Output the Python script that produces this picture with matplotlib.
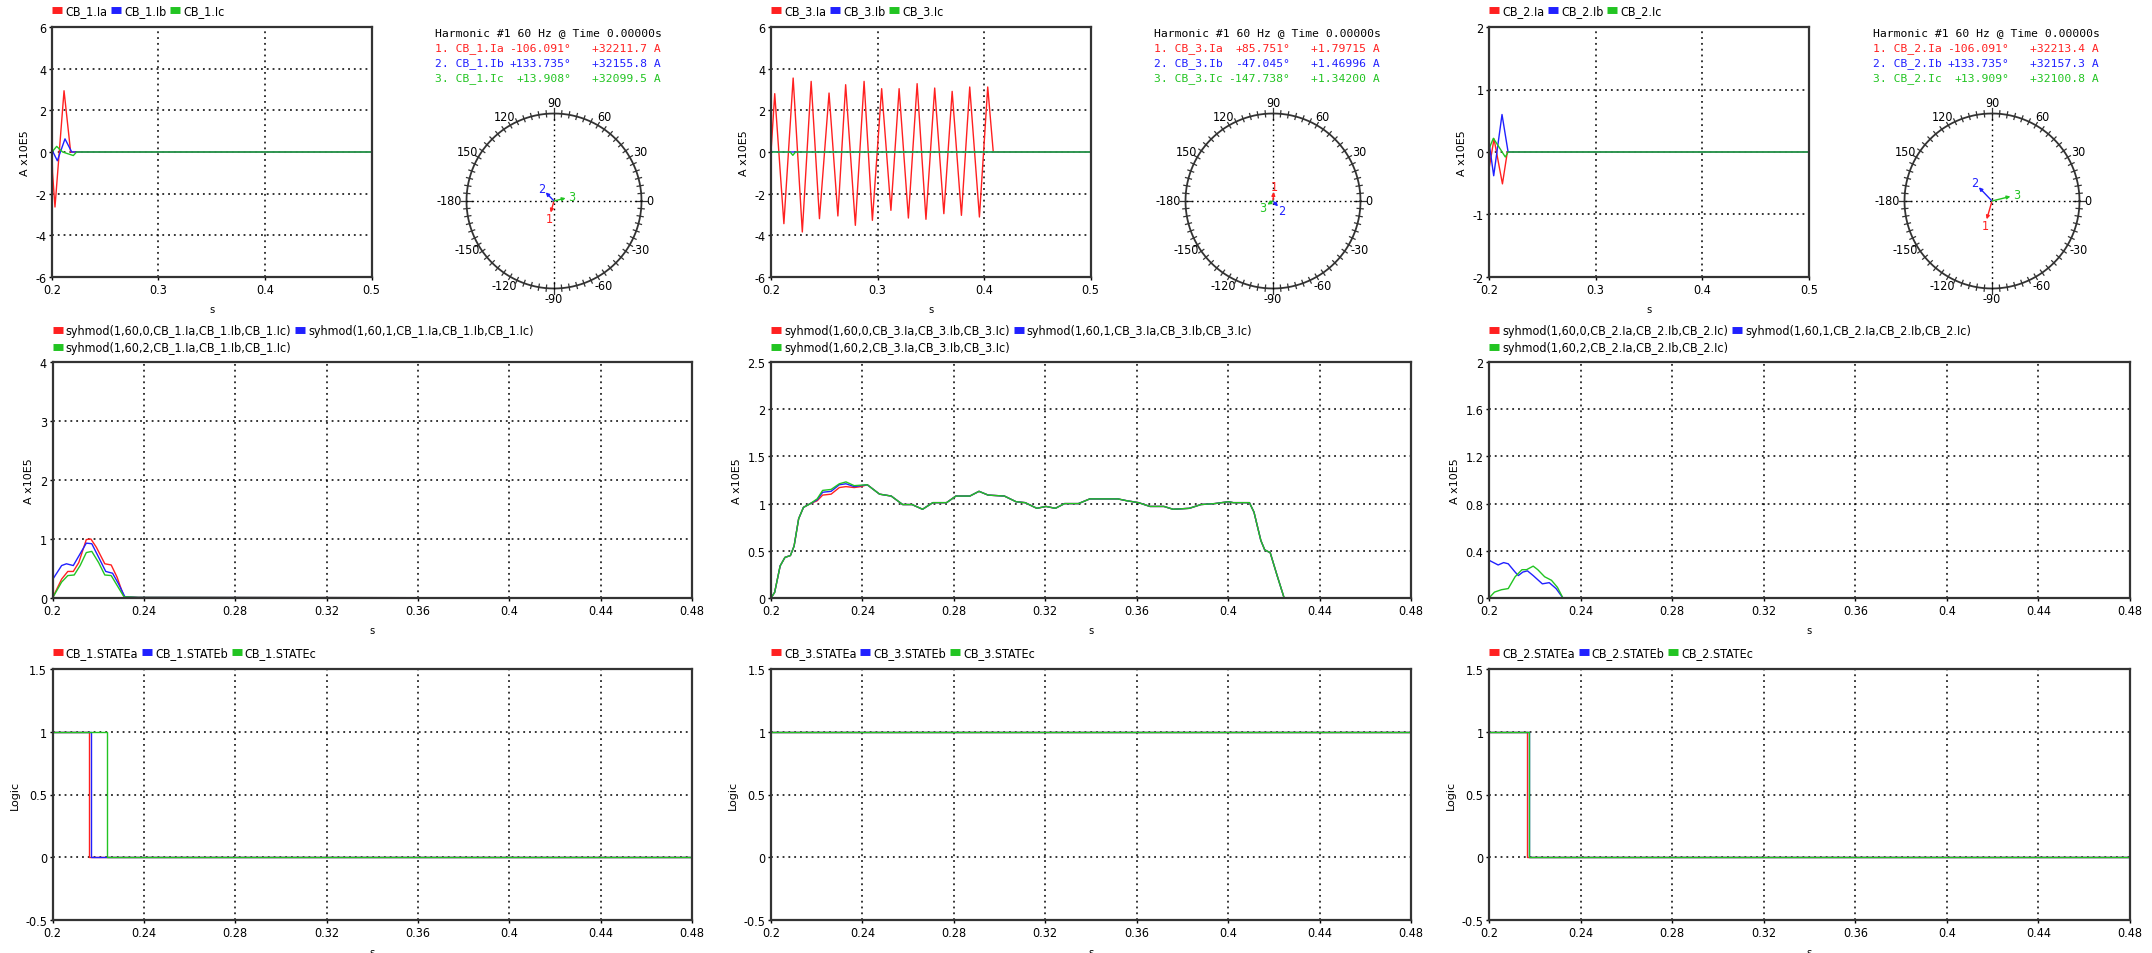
import numpy as np
import matplotlib
matplotlib.use('Agg')
import matplotlib.pyplot as plt
from matplotlib.lines import Line2D

plt.rcParams['font.family'] = ['Liberation Sans Narrow', 'DejaVu Sans']
plt.rcParams['font.stretch'] = 'condensed'

W, H = 2152, 954
RED, BLUE, GREEN = '#ff2020', '#2020ff', '#22c422'
COLORS = [RED, BLUE, GREEN]

# ---- instantaneous currents (A x10E5) ----
cb1_ia_t = [0.2, 0.2005, 0.2028, 0.2113, 0.2175, 0.5]
cb1_ia = [0.0, -1.0, -2.64, 2.94, 0.0, 0.0]
cb1_ib_t = [0.2, 0.205, 0.2122, 0.2185, 0.5]
cb1_ib = [0.1, -0.42, 0.63, 0.0, 0.0]
cb1_ic_t = [0.2, 0.2044, 0.21, 0.22, 0.2231, 0.5]
cb1_ic = [0.0, 0.27, 0.0, -0.17, 0.0, 0.0]

cb3_ia_t = [0.2, 0.2035, 0.2121, 0.2208, 0.2294, 0.2377, 0.2455, 0.2545, 0.2628,
            0.2701, 0.2792, 0.2874, 0.2952, 0.3039, 0.3126, 0.3203, 0.329, 0.3372,
            0.3455, 0.3537, 0.3623, 0.3701, 0.3788, 0.3866, 0.3957, 0.4035, 0.4087, 0.5]
cb3_ia = [0.0, 2.8, -3.44, 3.55, -3.84, 3.39, -3.2, 2.83, -3.07, 3.23, -3.52, 3.39,
          -3.28, 3.04, -2.8, 3.04, -3.17, 3.28, -3.23, 3.07, -2.96, 2.91, -3.04, 3.12,
          -3.12, 3.12, 0.0, 0.0]
cb3_ib_t = [0.2, 0.2075, 0.5]
cb3_ib = [0.02, 0.0, 0.0]
cb3_ic_t = [0.2, 0.218, 0.2205, 0.223, 0.5]
cb3_ic = [0.0, 0.0, -0.16, 0.0, 0.0]

cb2_ia_t = [0.2, 0.2047, 0.2126, 0.2172, 0.2203, 0.5]
cb2_ia = [-0.27, 0.21, -0.51, 0.0, 0.0, 0.0]
cb2_ib_t = [0.2, 0.2044, 0.2122, 0.2179, 0.5]
cb2_ib = [0.16, -0.38, 0.6, 0.0, 0.0]
cb2_ic_t = [0.2, 0.2041, 0.2153, 0.2179, 0.5]
cb2_ic = [0.05, 0.22, -0.08, 0.0, 0.0]

# ---- harmonic phasors ----
cb1_ang = [-106.091, 133.735, 13.908]
cb1_mag = [32211.7, 32155.8, 32099.5]
cb3_ang = [85.751, -47.045, -147.738]
cb3_mag = [1.79715, 1.46996, 1.34200]
cb2_ang = [-106.091, 133.735, 13.909]
cb2_mag = [32213.4, 32157.3, 32100.8]
phasor_full_scale = [2.35e5, 17.5, 1.48e5]

# ---- sequence magnitudes syhmod (A x10E5) ----
cb1_s0_t = [0.2, 0.204, 0.2067, 0.2091, 0.2115, 0.2148, 0.2168, 0.2192, 0.2229, 0.2257, 0.2283, 0.2313, 0.2374, 0.48]
cb1_s0 = [0.0, 0.32, 0.45, 0.45, 0.6, 0.99, 1.0, 0.86, 0.58, 0.56, 0.35, 0.02, 0.01, 0.0]
cb1_s1_t = [0.2, 0.204, 0.2061, 0.2091, 0.2121, 0.2148, 0.2172, 0.2202, 0.2233, 0.2263, 0.2289, 0.2317, 0.2374, 0.48]
cb1_s1 = [0.31, 0.55, 0.58, 0.55, 0.75, 0.93, 0.92, 0.69, 0.45, 0.42, 0.24, 0.02, 0.01, 0.0]
cb1_s2_t = [0.2, 0.204, 0.2067, 0.2095, 0.2121, 0.2148, 0.2172, 0.2202, 0.2229, 0.2257, 0.2285, 0.2313, 0.2374, 0.48]
cb1_s2 = [0.0, 0.27, 0.38, 0.39, 0.55, 0.77, 0.79, 0.6, 0.39, 0.38, 0.2, 0.02, 0.01, 0.0]

cb3_s2_t = [0.2, 0.2016, 0.204, 0.2061, 0.2085, 0.2101, 0.2121, 0.2142, 0.2172, 0.2202,
            0.2226, 0.2263, 0.2299, 0.2328, 0.2364, 0.2421, 0.2475, 0.2526, 0.2576, 0.2617,
            0.2663, 0.2708, 0.2768, 0.2809, 0.287, 0.291, 0.295, 0.3021, 0.3072, 0.3112,
            0.3163, 0.3203, 0.3244, 0.3284, 0.3345, 0.3395, 0.3517, 0.3557, 0.3608, 0.3658,
            0.3719, 0.3759, 0.383, 0.3881, 0.3941, 0.4002, 0.4022, 0.4093, 0.4113, 0.4143,
            0.416, 0.4184, 0.4214, 0.4245, 0.48]
cb3_s2 = [0.0, 0.06, 0.34, 0.43, 0.45, 0.55, 0.84, 0.96, 1.0, 1.05,
          1.14, 1.15, 1.21, 1.23, 1.19, 1.2, 1.1, 1.08, 0.99, 0.99,
          0.94, 1.01, 1.01, 1.08, 1.08, 1.13, 1.09, 1.08, 1.02, 1.01,
          0.95, 0.97, 0.95, 1.0, 1.0, 1.05, 1.05, 1.03, 1.01, 0.97,
          0.97, 0.94, 0.95, 0.99, 1.0, 1.02, 1.01, 1.01, 0.91, 0.61,
          0.51, 0.48, 0.24, 0.0, 0.0]
cb3_s0_head_t = [0.2, 0.2016, 0.204, 0.2061, 0.2085, 0.2101, 0.2121, 0.2142, 0.2172, 0.2202, 0.2226, 0.2263, 0.2299, 0.2328, 0.2364, 0.2393]
cb3_s0_head = [0.0, 0.06, 0.34, 0.43, 0.45, 0.55, 0.84, 0.96, 1.0, 1.03, 1.09, 1.1, 1.17, 1.18, 1.17, 1.18]
cb3_s1_head_t = [0.2, 0.2016, 0.204, 0.2061, 0.2085, 0.2101, 0.2121, 0.2142, 0.2172, 0.2202, 0.2226, 0.2263, 0.2299, 0.2328, 0.2364, 0.2393]
cb3_s1_head = [0.0, 0.06, 0.34, 0.43, 0.45, 0.55, 0.84, 0.96, 1.0, 1.04, 1.12, 1.13, 1.2, 1.21, 1.18, 1.19]

cb2_s0_t = [0.2, 0.2323, 0.48]
cb2_s0 = [0.0, 0.0, 0.0]
cb2_s1_t = [0.2, 0.202, 0.204, 0.2064, 0.2084, 0.2114, 0.2128, 0.2148, 0.2168, 0.2193, 0.2233, 0.2263, 0.2293, 0.2323, 0.48]
cb2_s1 = [0.32, 0.3, 0.28, 0.3, 0.29, 0.22, 0.19, 0.22, 0.23, 0.19, 0.12, 0.13, 0.08, 0.0, 0.0]
cb2_s2_t = [0.2, 0.2024, 0.2054, 0.2084, 0.2114, 0.2144, 0.2164, 0.2193, 0.2213, 0.2243, 0.2273, 0.2299, 0.2323, 0.48]
cb2_s2 = [0.0, 0.05, 0.07, 0.08, 0.18, 0.24, 0.24, 0.27, 0.24, 0.18, 0.15, 0.09, 0.0, 0.0]

# ---- breaker states (logic) ----
cb1_state_t = [[0.2, 0.2162, 0.48], [0.2, 0.2168, 0.48], [0.2, 0.2237, 0.48]]
cb1_state = [[1, 0, 0], [1, 0, 0], [1, 0, 0]]
cb3_state_t = [[0.2, 0.48], [0.2, 0.48], [0.2, 0.48]]
cb3_state = [[1, 1], [1, 1], [1, 1]]
cb2_state_t = [[0.2, 0.2164, 0.48], [0.2, 0.2176, 0.48], [0.2, 0.2176, 0.48]]
cb2_state = [[1, 0, 0], [1, 0, 0], [1, 0, 0]]

names = ['CB_1', 'CB_3', 'CB_2']
wave_ticks_y = [[-6, -4, -2, 0, 2, 4, 6], [-6, -4, -2, 0, 2, 4, 6], [-2, -1, 0, 1, 2]]
trend_ticks_y = [[0, 1, 2, 3, 4], [0, 0.5, 1, 1.5, 2, 2.5], [0, 0.4, 0.8, 1.2, 1.6, 2]]
state_ticks_y = [-0.5, 0, 0.5, 1, 1.5]
wave_ticks_x = [0.2, 0.3, 0.4, 0.5]
trend_ticks_x = [0.2, 0.24, 0.28, 0.32, 0.36, 0.4, 0.44, 0.48]

fig = plt.figure(figsize=(W / 100, H / 100), dpi=100)


def px_axes(x0, y0, x1, y1):
    return fig.add_axes([x0 / W, 1 - y1 / H, (x1 - x0) / W, (y1 - y0) / H])


def style_axes(ax, xticks, yticks, ylabel):
    ax.set_xlim(xticks[0], xticks[-1])
    ax.set_ylim(yticks[0], yticks[-1])
    ax.set_xticks(xticks)
    ax.set_xticklabels(['%g' % v for v in xticks])
    ax.set_yticks(yticks)
    ax.set_yticklabels(['%g' % v for v in yticks])
    ax.grid(True, color='black', linestyle=(0, (1.2, 2.6)), linewidth=1.1)
    for s in ax.spines.values():
        s.set_color('#333333')
        s.set_linewidth(1.6)
    ax.tick_params(direction='out', length=2, width=1, pad=2, labelsize=9)
    ax.set_xlabel('s', fontsize=8, labelpad=6)
    ax.set_ylabel(ylabel, fontsize=8, family='DejaVu Sans', stretch='normal', labelpad=4)


def add_legend(ax, labels, x_px, y_px, ncol, order=None):
    handles = [Line2D([0], [0], color=c, lw=5, solid_capstyle='butt') for c in COLORS]
    if order is not None:
        handles = [handles[i] for i in order]
        labels = [labels[i] for i in order]
    ax.legend(handles, labels, loc='center left', bbox_to_anchor=(x_px / W, 1 - y_px / H),
              bbox_transform=fig.transFigure, ncol=ncol, frameon=False, fontsize=9,
              handlelength=0.8, handletextpad=0.25, columnspacing=0.3, borderpad=0,
              borderaxespad=0, labelspacing=0.3)


def draw_phasor(cx, cy, angles, mags, full):
    R = 87.5
    half = R * 1.45
    ax = px_axes(cx - half, cy - half, cx + half, cy + half)
    ax.set_xlim(-1.45, 1.45)
    ax.set_ylim(-1.45, 1.45)
    ax.axis('off')
    th = np.radians(np.arange(0, 361, 1))
    ax.plot(np.cos(th), np.sin(th), color='#333333', lw=1.3)
    for a in range(0, 360, 5):
        r0, r1 = (0.93, 1.06) if a % 90 == 0 else (0.965, 1.035)
        c, s = np.cos(np.radians(a)), np.sin(np.radians(a))
        ax.plot([r0 * c, r1 * c], [r0 * s, r1 * s], color='#333333', lw=0.9)
    ax.plot([-1, 1], [0, 0], color='black', ls=(0, (1.2, 2.6)), lw=1)
    ax.plot([0, 0], [-1, 1], color='black', ls=(0, (1.2, 2.6)), lw=1)
    for lab in [0, 30, 60, 90, 120, 150, -180, -150, -120, -90, -60, -30]:
        c, s = np.cos(np.radians(lab)), np.sin(np.radians(lab))
        if lab == 0:
            ax.text(1.05, 0, '0', ha='left', va='center', fontsize=9)
        elif lab == -180:
            ax.text(-1.05, 0, '-180', ha='right', va='center', fontsize=9)
        else:
            ax.text(1.14 * c, 1.12 * s, str(lab), ha='center', va='center', fontsize=9)
    for k, (ang, mag) in enumerate(zip(angles, mags)):
        r = mag / full
        c, s = np.cos(np.radians(ang)), np.sin(np.radians(ang))
        ax.annotate('', xy=(r * c, r * s), xytext=(0, 0),
                    arrowprops=dict(arrowstyle='-|>', color=COLORS[k], lw=1,
                                    mutation_scale=5, shrinkA=0, shrinkB=0))
        ax.annotate(str(k + 1), xy=(r * c, r * s), xytext=(6 * c, 6 * s),
                    textcoords='offset pixels', color=COLORS[k], fontsize=9,
                    ha='center', va='center')


def harmonic_text(x0, name, angles, mags):
    mono = dict(family='DejaVu Sans Mono', stretch='normal', fontsize=8.2, va='center')
    fig.text(x0 / W, 1 - 33 / H, 'Harmonic #1 60 Hz @ Time 0.00000s', color='black', **mono)
    for k, ph in enumerate(['Ia', 'Ib', 'Ic']):
        y = 1 - (49 + 15 * k) / H
        fig.text(x0 / W, y, '%d. %s.%s' % (k + 1, name, ph), color=COLORS[k], **mono)
        fig.text((x0 + 136) / W, y, '{:+.3f}°'.format(angles[k]), color=COLORS[k], ha='right', **mono)
        fig.text((x0 + 226) / W, y, '{:+#.6g} A'.format(mags[k]), color=COLORS[k], ha='right', **mono)


wave_x = [(52, 371.5), (771, 1090.5), (1489, 1809)]
trend_x = [(52.5, 692), (771, 1411), (1489, 2130)]
phasor_cx = [554, 1273, 1992]
text_x = [435, 1154, 1873]

waves = [
    [(cb1_ia_t, cb1_ia), (cb1_ib_t, cb1_ib), (cb1_ic_t, cb1_ic)],
    [(cb3_ia_t, cb3_ia), (cb3_ib_t, cb3_ib), (cb3_ic_t, cb3_ic)],
    [(cb2_ia_t, cb2_ia), (cb2_ib_t, cb2_ib), (cb2_ic_t, cb2_ic)],
]
tail_i = next(i for i, t in enumerate(cb3_s2_t) if t > 0.2393)
trends = [
    [(cb1_s0_t, cb1_s0), (cb1_s1_t, cb1_s1), (cb1_s2_t, cb1_s2)],
    [(cb3_s0_head_t + cb3_s2_t[tail_i:], cb3_s0_head + cb3_s2[tail_i:]),
     (cb3_s1_head_t + cb3_s2_t[tail_i:], cb3_s1_head + cb3_s2[tail_i:]),
     (cb3_s2_t, cb3_s2)],
    [(cb2_s0_t, cb2_s0), (cb2_s1_t, cb2_s1), (cb2_s2_t, cb2_s2)],
]
states = [(cb1_state_t, cb1_state), (cb3_state_t, cb3_state), (cb2_state_t, cb2_state)]
phasors = [(cb1_ang, cb1_mag), (cb3_ang, cb3_mag), (cb2_ang, cb2_mag)]

for p in range(3):
    nm = names[p]
    # waveform
    ax = px_axes(wave_x[p][0], 28, wave_x[p][1], 278)
    for k, (t, v) in enumerate(waves[p]):
        ax.plot(t, v, color=COLORS[k], lw=1)
    style_axes(ax, wave_ticks_x, wave_ticks_y[p], 'A x10E5')
    add_legend(ax, ['%s.Ia' % nm, '%s.Ib' % nm, '%s.Ic' % nm], wave_x[p][0], 12, 3)

    draw_phasor(phasor_cx[p], 202, phasors[p][0], phasors[p][1], phasor_full_scale[p])
    harmonic_text(text_x[p], nm, phasors[p][0], phasors[p][1])

    # sequence trends
    ax = px_axes(trend_x[p][0], 363, trend_x[p][1], 599)
    for k, (t, v) in enumerate(trends[p]):
        ax.plot(t, v, color=COLORS[k], lw=1)
    style_axes(ax, trend_ticks_x, trend_ticks_y[p], 'A x10E5')
    seq_labels = ['syhmod(1,60,%d,%s.Ia,%s.Ib,%s.Ic)' % (i, nm, nm, nm) for i in range(3)]
    add_legend(ax, seq_labels, trend_x[p][0], 340, 2, order=[0, 2, 1])

    # breaker states
    ax = px_axes(trend_x[p][0], 670, trend_x[p][1], 921)
    st_t, st_v = states[p]
    for k in range(3):
        ax.plot(st_t[k], st_v[k], color=COLORS[k], lw=1, drawstyle='steps-post')
    style_axes(ax, trend_ticks_x, state_ticks_y, 'Logic')
    add_legend(ax, ['%s.STATEa' % nm, '%s.STATEb' % nm, '%s.STATEc' % nm], trend_x[p][0], 654, 3)

fig.savefig('out.png', dpi=100)
